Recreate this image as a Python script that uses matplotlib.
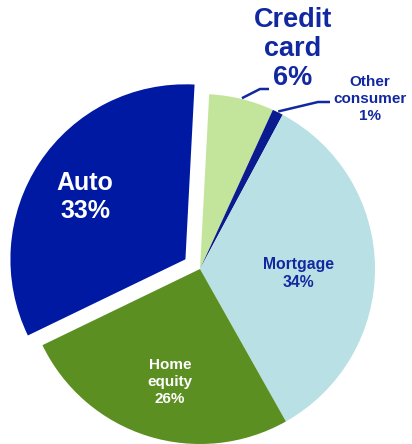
import numpy as np
import matplotlib
matplotlib.use("Agg")
import matplotlib.pyplot as plt

# Consumer loan mix
categories = ["Credit card", "Other consumer", "Mortgage", "Home equity", "Auto"]
shares = [6, 1, 34, 26, 33]
label_lines = ["Credit\ncard\n6%", "Other\nconsumer\n1%", "Mortgage\n34%", "Home\nequity\n26%", "Auto\n33%"]

colors = ["#C3E59B", "#0A1A8F", "#B9E0E4", "#5C8F22", "#0019A3"]
explode = [0, 0, 0, 0, 0.1]
text_blue = "#1228A0"

plt.rcParams["font.family"] = ["Liberation Sans", "DejaVu Sans"]

W, H, DPI = 412, 444, 100
R_PX = 175.0
CX, CY = 200.0, 269.0  # pie centre in pixels from the top-left


def px(x, y):
    """Convert pixel position (from top-left) to data units (pie radius = 1)."""
    return (x - CX) / R_PX, (CY - y) / R_PX


fig = plt.figure(figsize=(W / DPI, H / DPI), dpi=DPI)
ax = fig.add_axes([0, 0, 1, 1])

wedges, _ = ax.pie(shares, colors=colors, explode=explode, startangle=87,
                   counterclock=False, radius=1.0,
                   wedgeprops=dict(linewidth=0))

ax.set_xlim(-CX / R_PX, (W - CX) / R_PX)
ax.set_ylim(-(H - CY) / R_PX, CY / R_PX)
ax.set_aspect("equal")
ax.axis("off")

# Labels inside the slices
inside = {
    2: dict(pos=(298, 273), color=text_blue, size=11.3, ls=1.25),
    3: dict(pos=(170, 382), color="white", size=11, ls=1.3),
    4: dict(pos=(85, 197), color="white", size=18, ls=1.25),
}
for i, spec in inside.items():
    x, y = px(*spec["pos"])
    ax.text(x, y, label_lines[i], ha="center", va="center", color=spec["color"],
            fontsize=spec["size"], fontweight="bold", linespacing=spec["ls"])

# Outside labels with elbow leader lines
outside = {
    0: dict(text=(293, 49), size=19.5, elbow=(260, 89), end=(269, 89), ls=1.15),
    1: dict(text=(370, 99), size=11, elbow=(318, 102), end=(330, 102), ls=1.3),
}
for i, spec in outside.items():
    w = wedges[i]
    mid = np.deg2rad((w.theta1 + w.theta2) / 2)
    start = (np.cos(mid) * 1.005, np.sin(mid) * 1.005)
    ex, ey = px(*spec["elbow"])
    fx, fy = px(*spec["end"])
    ax.plot([start[0], ex, fx], [start[1], ey, fy], color=text_blue, lw=1.8,
            solid_capstyle="butt")
    tx, ty = px(*spec["text"])
    ax.text(tx, ty, label_lines[i], ha="center", va="center", color=text_blue,
            fontsize=spec["size"], fontweight="bold", linespacing=spec["ls"])

fig.savefig("out.png", dpi=DPI)
